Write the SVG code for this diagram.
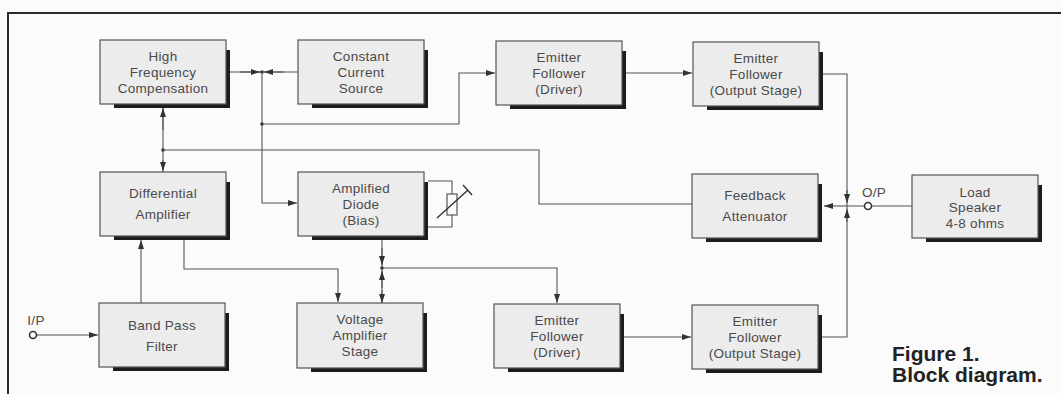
<svg xmlns="http://www.w3.org/2000/svg" width="1061" height="394" viewBox="0 0 1061 394">
<style>
.sh{fill:#1c1c1c}
.bx{fill:#ececec;stroke:#555;stroke-width:1.2}
.t{font-family:"Liberation Sans",Arial,sans-serif;font-size:13.5px;fill:#4a4a4a;text-anchor:middle;letter-spacing:0.3px}
.ln{fill:none;stroke:#555;stroke-width:1.1}
.ar{fill:none;stroke:#555;stroke-width:1.1;marker-end:url(#ah)}
.dot{fill:#333}
.term{fill:#fff;stroke:#333;stroke-width:1.6}
.cap{font-family:"Liberation Sans",Arial,sans-serif;font-size:21px;font-weight:bold;fill:#222}
</style>
<defs>
<marker id="ah" markerUnits="userSpaceOnUse" markerWidth="10" markerHeight="7" refX="9" refY="3.5" orient="auto">
<path d="M0,0.5 L9,3.5 L0,6.5 z" fill="#333"/>
</marker>
</defs>
<rect width="1061" height="394" fill="#fbfbfb"/>
<path d="M8,394 V13 H1061" fill="none" stroke="#2a2a2a" stroke-width="2"/>

<g id="hfc">
<rect class="sh" x="114" y="50" width="116" height="58"/>
<rect class="bx" x="100" y="40" width="126" height="64"/>
<text class="t" x="163" y="61">High</text>
<text class="t" x="163" y="77">Frequency</text>
<text class="t" x="163" y="93">Compensation</text>
</g>
<g id="ccs">
<rect class="sh" x="312" y="50" width="116" height="58"/>
<rect class="bx" x="298" y="40" width="126" height="64"/>
<text class="t" x="361" y="61">Constant</text>
<text class="t" x="361" y="77">Current</text>
<text class="t" x="361" y="93">Source</text>
</g>
<g id="efd1">
<rect class="sh" x="510" y="51" width="116" height="58"/>
<rect class="bx" x="496" y="41" width="126" height="64"/>
<text class="t" x="559" y="62">Emitter</text>
<text class="t" x="559" y="78">Follower</text>
<text class="t" x="559" y="94">(Driver)</text>
</g>
<g id="efo1">
<rect class="sh" x="707" y="52" width="116" height="58"/>
<rect class="bx" x="693" y="42" width="126" height="64"/>
<text class="t" x="756" y="63">Emitter</text>
<text class="t" x="756" y="79">Follower</text>
<text class="t" x="756" y="95">(Output  Stage)</text>
</g>
<g id="diff">
<rect class="sh" x="114" y="182" width="116" height="58"/>
<rect class="bx" x="100" y="172" width="126" height="64"/>
<text class="t" x="163" y="198">Differential</text>
<text class="t" x="163" y="219">Amplifier</text>
</g>
<g id="diode">
<rect class="sh" x="312" y="182" width="116" height="58"/>
<rect class="bx" x="298" y="172" width="126" height="64"/>
<text class="t" x="361" y="193">Amplified</text>
<text class="t" x="361" y="209">Diode</text>
<text class="t" x="361" y="225">(Bias)</text>
</g>
<g id="fa">
<rect class="sh" x="706" y="184" width="116" height="58"/>
<rect class="bx" x="692" y="174" width="126" height="64"/>
<text class="t" x="755" y="200">Feedback</text>
<text class="t" x="755" y="221">Attenuator</text>
</g>
<g id="load">
<rect class="sh" x="926" y="185" width="116" height="57"/>
<rect class="bx" x="912" y="175" width="126" height="63"/>
<text class="t" x="975" y="197">Load</text>
<text class="t" x="975" y="212">Speaker</text>
<text class="t" x="975" y="228">4-8  ohms</text>
</g>
<g id="bpf">
<rect class="sh" x="113" y="313" width="116" height="58"/>
<rect class="bx" x="99" y="303" width="126" height="64"/>
<text class="t" x="162" y="330">Band  Pass</text>
<text class="t" x="162" y="351">Filter</text>
</g>
<g id="vas">
<rect class="sh" x="311" y="313" width="116" height="59"/>
<rect class="bx" x="297" y="303" width="126" height="65"/>
<text class="t" x="360" y="324">Voltage</text>
<text class="t" x="360" y="340">Amplifier</text>
<text class="t" x="360" y="356">Stage</text>
</g>
<g id="efd2">
<rect class="sh" x="508" y="314" width="116" height="58"/>
<rect class="bx" x="494" y="304" width="126" height="64"/>
<text class="t" x="557" y="325">Emitter</text>
<text class="t" x="557" y="341">Follower</text>
<text class="t" x="557" y="357">(Driver)</text>
</g>
<g id="efo2">
<rect class="sh" x="706" y="315" width="116" height="58"/>
<rect class="bx" x="692" y="305" width="126" height="64"/>
<text class="t" x="755" y="326">Emitter</text>
<text class="t" x="755" y="342">Follower</text>
<text class="t" x="755" y="358">(Output  Stage)</text>
</g>

<g id="connectors">
<!-- HFC - CCS with junction -->
<path class="ln" d="M230,72 H298"/>
<path class="ar" d="M240,72 H260"/>
<path class="ar" d="M284,72 H264"/>
<circle class="dot" cx="262" cy="72" r="1.8"/>
<path class="ar" d="M262,72 V203 H297"/>
<circle class="dot" cx="262" cy="124" r="1.8"/>
<path class="ar" d="M262,124 H459 V73 H495"/>
<!-- HFC - Diff amp - feedback -->
<path class="ln" d="M163,108 V172"/>
<path class="ar" d="M163,130 V108"/>
<path class="ar" d="M163,160 V171"/>
<circle class="dot" cx="163" cy="150" r="1.8"/>
<path class="ln" d="M163,150 H539 V204 H692"/>
<!-- variable resistor -->
<path class="ln" d="M428,181 H452 V194 M452,215 V227 H428"/>
<rect x="447" y="194" width="10" height="21" fill="none" stroke="#555" stroke-width="1.2"/>
<path d="M437,218 L468,190 M463,185 L472,195" fill="none" stroke="#333" stroke-width="1.4"/>
<!-- diode to VAS -->
<path class="ln" d="M382,240 V303"/>
<path class="ar" d="M382,248 V265"/>
<path class="ar" d="M382,288 V271"/>
<path class="ar" d="M382,290 V303"/>
<circle class="dot" cx="382" cy="268" r="1.8"/>
<path class="ar" d="M382,268 H557 V303"/>
<!-- diff amp to VAS -->
<path class="ar" d="M184,240 V269 H338 V302"/>
<!-- BPF to diff -->
<path class="ar" d="M141,303 V240"/>
<!-- I/P -->
<path class="ar" d="M37,335 H98"/>
<circle class="term" cx="33" cy="335" r="3.5"/>
<text class="t" x="36" y="325">I/P</text>
<!-- driver to output stages -->
<path class="ar" d="M626,73 H692"/>
<path class="ar" d="M624,337 H691"/>
<!-- outputs to O/P junction -->
<path class="ln" d="M823,74 H847 V337 H822"/>
<path class="ar" d="M847,190 V203"/>
<path class="ar" d="M847,222 V209"/>
<path class="ar" d="M847,206 H824"/>
<path class="ln" d="M847,206 H864 M872,206 H912"/>
<circle class="term" cx="868" cy="206" r="3.5"/>
<text class="t" x="874" y="197">O/P</text>
</g>

<text class="cap" x="892" y="361">Figure 1.</text>
<text class="cap" x="892" y="382">Block diagram.</text>
</svg>
